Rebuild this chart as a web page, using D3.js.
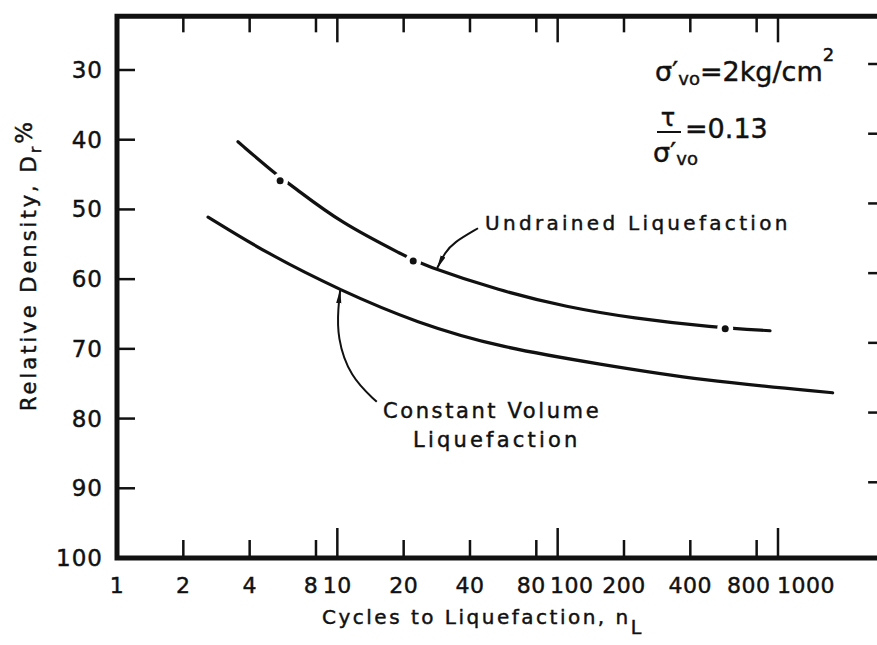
<!DOCTYPE html>
<meta charset="utf-8">
<style>
body { margin: 0; background: #fff; }
svg text { font-family: "DejaVu Sans", sans-serif; fill: #111; stroke: #111; stroke-width: 0.45px; }
.frame { fill: none; stroke: #111; stroke-width: 5px; }
.tick line { stroke: #111; stroke-width: 2.5px; }
.curve { fill: none; stroke: #111; stroke-width: 3.2px; stroke-linecap: round; }
.leader { fill: none; stroke: #111; stroke-width: 2px; }
</style>
<svg id="chart" width="877" height="645"></svg>
<script src="https://cdn.jsdelivr.net/npm/d3@7"></script>
<script>

// ticks
var xTicks = [1, 2, 4, 8, 10, 20, 40, 80, 100, 200, 400, 800, 1000];
var xMajor = [10, 100, 1000];
var yTicks = [30, 40, 50, 60, 70, 80, 90, 100];

// undrained liquefaction curve (cycles, Dr %)
var undrainedN  = [3.54, 5.32, 6.23, 10.3, 20.7, 24.2, 55, 110, 219, 507, 920];
var undrainedDr = [40.3, 45.1, 46.6, 51.9, 56.8, 57.9, 61.7, 64.0, 65.6, 66.9, 67.4];
// test points on the undrained curve
var pointN  = [5.5, 22.1, 576];
var pointDr = [45.9, 57.4, 67.1];

// constant volume liquefaction curve
var constantN  = [2.59, 4.79, 10.3, 23.0, 55, 156, 438, 1770];
var constantDr = [51.1, 56.3, 61.6, 66.3, 69.8, 72.2, 74.5, 76.3];

// leader lines for the two labels (drawn in data coords)
var leaderUndrainedN  = [43.5, 33.5, 30.8, 28.4];
var leaderUndrainedDr = [52.7, 54.8, 56.2, 58.4];
var leaderConstantN  = [15.1, 11.4, 9.97, 10.1, 10.3];
var leaderConstantDr = [77.6, 74.0, 68.3, 64.0, 61.6];

var svg = d3.select("#chart");

var x = d3.scaleLog().domain([1, 1000]).range([117, 778]);
var y = d3.scaleLinear().domain([30, 100]).range([70, 558]);

var xLeft = x(1), xRight = x(3000), yTop = y(22.3), yBottom = y(100);

var zip = function(a, b) { return a.map(function(d, i) { return [d, b[i]]; }); };

var line = d3.line()
    .x(function(d) { return x(d[0]); })
    .y(function(d) { return y(d[1]); })
    .curve(d3.curveBasis);

svg.append("defs").append("marker")
    .attr("id", "arrow")
    .attr("markerUnits", "userSpaceOnUse")
    .attr("viewBox", "0 -4 14 8")
    .attr("refX", 13).attr("refY", 0)
    .attr("markerWidth", 14).attr("markerHeight", 8)
    .attr("orient", "auto")
  .append("path")
    .attr("d", "M0,-2.6L14,0L0,2.6Z")
    .attr("fill", "#111");

// ticks (drawn before the frame)
var ticks = svg.append("g").attr("class", "tick");

xTicks.filter(function(d) { return d > 1; }).forEach(function(d) {
  var len = xMajor.indexOf(d) >= 0 ? 30 : 18;
  ticks.append("line")
      .attr("x1", x(d)).attr("x2", x(d))
      .attr("y1", yBottom).attr("y2", yBottom - len);
  var lenTop = xMajor.indexOf(d) >= 0 ? 26 : 16;
  ticks.append("line")
      .attr("x1", x(d)).attr("x2", x(d))
      .attr("y1", yTop).attr("y2", yTop + lenTop);
});

yTicks.filter(function(d) { return d < 100; }).forEach(function(d) {
  ticks.append("line")
      .attr("x1", xLeft).attr("x2", xLeft + 18)
      .attr("y1", y(d)).attr("y2", y(d));
  ticks.append("line")
      .attr("x1", xRight).attr("x2", xRight - 15)
      .attr("y1", y(d) - 6).attr("y2", y(d) - 6);
});

svg.append("path")
    .attr("class", "frame")
    .attr("d", "M" + xRight + "," + yTop + "L" + xLeft + "," + yTop +
               "L" + xLeft + "," + yBottom + "L" + xRight + "," + yBottom);

// tick labels
svg.append("g").selectAll("text")
    .data(yTicks)
    .enter().append("text")
      .attr("x", 103)
      .attr("y", function(d) { return y(d) + 8; })
      .attr("text-anchor", "end")
      .style("font-size", "23px")
      .style("letter-spacing", "1px")
      .text(function(d) { return d; });

var nudge = { 8: -5, 80: -5, 800: -8, 100: 14, 1000: 28 };
svg.append("g").selectAll("text")
    .data(xTicks)
    .enter().append("text")
      .attr("x", function(d) { return x(d) + (nudge[d] || 0); })
      .attr("y", 593)
      .attr("text-anchor", "middle")
      .style("font-size", "22px")
      .style("letter-spacing", "0.5px")
      .text(function(d) { return d; });

// curves
svg.append("path")
    .attr("class", "curve")
    .attr("d", line(zip(constantN, constantDr)));

svg.append("path")
    .attr("class", "curve")
    .attr("d", line(zip(undrainedN, undrainedDr)));

var pts = zip(pointN, pointDr);
svg.append("g").selectAll("circle")
    .data(pts)
    .enter().append("circle")
      .attr("cx", function(d) { return x(d[0]); })
      .attr("cy", function(d) { return y(d[1]); })
      .attr("r", 8)
      .attr("fill", "#fff");
svg.append("g").selectAll("circle")
    .data(pts)
    .enter().append("circle")
      .attr("cx", function(d) { return x(d[0]); })
      .attr("cy", function(d) { return y(d[1]); })
      .attr("r", 3.5)
      .attr("fill", "#111");

// leaders
var leaderLine = d3.line()
    .x(function(d) { return x(d[0]); })
    .y(function(d) { return y(d[1]); })
    .curve(d3.curveBasis);

svg.append("path")
    .attr("class", "leader")
    .attr("d", leaderLine(zip(leaderUndrainedN, leaderUndrainedDr)))
    .attr("marker-end", "url(#arrow)");

svg.append("path")
    .attr("class", "leader")
    .attr("d", leaderLine(zip(leaderConstantN, leaderConstantDr)))
    .attr("marker-end", "url(#arrow)");

// labels
svg.append("text")
    .attr("x", 485).attr("y", 230)
    .style("font-size", "20px")
    .style("letter-spacing", "3.3px")
    .text("Undrained Liquefaction");

svg.append("text")
    .attr("x", 383).attr("y", 418)
    .style("font-size", "21px")
    .style("letter-spacing", "2.6px")
    .text("Constant Volume");

svg.append("text")
    .attr("x", 413).attr("y", 447)
    .style("font-size", "21px")
    .style("letter-spacing", "3.2px")
    .text("Liquefaction");

// axis titles
var xt = svg.append("text")
    .attr("x", 322).attr("y", 624)
    .style("font-size", "20px")
    .style("letter-spacing", "2.5px");
xt.append("tspan").text("Cycles to Liquefaction, n");
xt.append("tspan").attr("dy", 10).style("font-size", "19px").text("L");

var yt = svg.append("text")
    .attr("transform", "translate(36,265) rotate(-90)")
    .attr("text-anchor", "middle")
    .style("font-size", "21px")
    .style("letter-spacing", "3px");
yt.append("tspan").text("Relative Density, D");
yt.append("tspan").attr("dy", 5).style("font-size", "16px").text("r");
yt.append("tspan").attr("dy", -9).style("font-size", "23px").text("%");

// stress conditions
var s1 = svg.append("text").attr("x", 655).attr("y", 81).style("font-size", "27px");
s1.append("tspan").text("σ′");
s1.append("tspan").attr("dy", 4).style("font-size", "18px").text("vo");
s1.append("tspan").attr("dy", -4).text("=2kg/cm");
s1.append("tspan").attr("dy", -20).style("font-size", "18px").text("2");

svg.append("text").attr("x", 668).attr("y", 126)
    .attr("text-anchor", "middle").style("font-size", "24px").text("τ");
svg.append("line")
    .attr("x1", 657).attr("x2", 681).attr("y1", 132).attr("y2", 132)
    .attr("stroke", "#111").attr("stroke-width", 2);
var s2 = svg.append("text").attr("x", 653).attr("y", 162).style("font-size", "27px");
s2.append("tspan").text("σ′");
s2.append("tspan").attr("dy", 3).style("font-size", "18px").text("vo");
svg.append("text").attr("x", 685).attr("y", 138)
    .style("font-size", "27px").text("=0.13");

</script>
